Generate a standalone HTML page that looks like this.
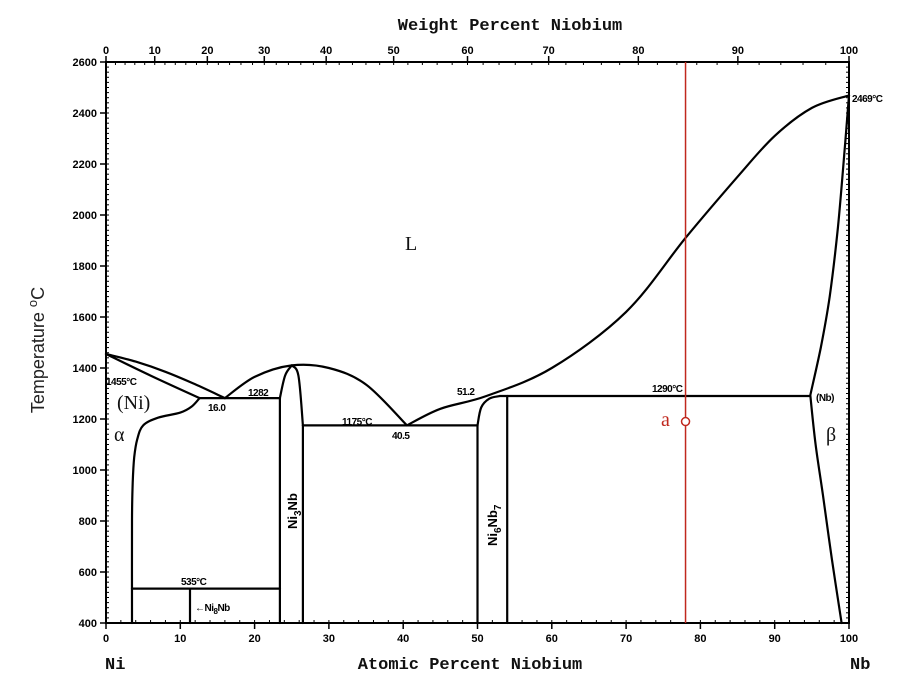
<!DOCTYPE html>
<html><head><meta charset="utf-8">
<style>
html,body{margin:0;padding:0;background:#fff;}
svg{display:block;font-family:"Liberation Sans",sans-serif;}
.t{font-size:11px;font-weight:bold;fill:#000;}
.lbl{font-family:"Liberation Mono",monospace;font-weight:bold;font-size:17px;fill:#111;}
.ph{font-family:"Liberation Serif",serif;font-size:20px;fill:#111;}
.sm{font-size:10px;font-weight:bold;fill:#000;letter-spacing:-0.5px}
.rot{font-size:13px;font-weight:bold;fill:#000;}
</style></head>
<body>
<svg id="chart" width="917" height="699" viewBox="0 0 917 699">
<g id="axes"></g>
<g id="curves" fill="none" stroke="#000" stroke-width="2.2"></g>
<g id="labels"></g>
</svg>
<script>
const xTicksAt = [0,10,20,30,40,50,60,70,80,90,100];
const xTicksWt = [0,10,20,30,40,50,60,70,80,90,100];
const yTicks = [400,600,800,1000,1200,1400,1600,1800,2000,2200,2400,2600];
const liqNi = [[0,1455],[4,1425],[8,1385],[12,1336],[16,1282]];
const solNi = [[0,1455],[6,1370],[12.6,1282]];
const solvNi = [[12.6,1282],[11.5,1248],[10,1225],[7,1205],[5,1175],[4.2,1120],[3.8,1050],[3.6,950],[3.5,800],[3.5,400]];
const liqMid = [[16,1282],[20,1365],[25,1410],[30,1400],[35,1335],[40.5,1175]];
const liqRight = [[40.5,1175],[45,1240],[51.2,1290],[60,1400],[70,1620],[78,1910],[85,2150],[90,2310],[95,2420],[100,2469]];
const ni3nbLv = [[23.4,400],[23.4,1282]];
const ni3nbLc = [[23.4,1282],[24.1,1370],[25,1410]];
const ni3nbRc = [[25,1410],[25.9,1370],[26.5,1175]];
const ni3nbRv = [[26.5,1175],[26.5,400]];
const ni6Lv = [[50,400],[50,1175]];
const ni6Lc = [[50,1175],[50.5,1245],[51.6,1280],[53,1290]];
const ni6R = [[54,400],[54,1290]];
const nbSol = [[94.8,1295],[96.2,1480],[97.4,1680],[98.5,1950],[99.4,2250],[100,2469]];
const nbSolv = [[94.8,1290],[95.5,1100],[96.5,900],[97.7,650],[99,400]];
const isotherms = [[12.6,23.4,1282],[26.5,50,1175],[53,94.8,1290],[3.5,23.4,535]];
const redX = 78;
const redT = 1190;

const X0=106,X1=849,Y400=623,PER=51/200;
const sx=v=>X0+(X1-X0)*v/100;
const sy=t=>Y400-(t-400)*PER;
const wt2at=w=>{if(w>=100)return 100;const a=w/92.906,b=(100-w)/58.69;return 100*a/(a+b);};
const NS="http://www.w3.org/2000/svg";
function mk(tag,attrs,parent,txt){const e=document.createElementNS(NS,tag);for(const k in attrs)e.setAttribute(k,attrs[k]);if(txt!=null)e.textContent=txt;parent.appendChild(e);return e;}
const axes=document.getElementById('axes'),curves=document.getElementById('curves'),labels=document.getElementById('labels');
const fr=mk('rect',{x:X0,y:sy(2600),width:X1-X0,height:sy(400)-sy(2600),fill:'none',stroke:'#000','stroke-width':2},axes);


for(let v=0;v<=100;v+=2){mk('line',{x1:sx(v),x2:sx(v),y1:Y400,y2:Y400-3,stroke:'#000','stroke-width':1},axes);}
for(let t=400;t<=2600;t+=20){mk('line',{x1:X0,x2:X0+3,y1:sy(t),y2:sy(t),stroke:'#000','stroke-width':1},axes);mk('line',{x1:X1,x2:X1-3,y1:sy(t),y2:sy(t),stroke:'#000','stroke-width':1},axes);}
xTicksAt.forEach(v=>{mk('line',{x1:sx(v),x2:sx(v),y1:Y400,y2:Y400+6,stroke:'#000','stroke-width':1.5},axes);
 const e=mk('text',{x:sx(v),y:642,'text-anchor':'middle',class:'t'},labels,String(v));
 
 });
xTicksWt.forEach(w=>{const x=sx(wt2at(w));mk('line',{x1:x,x2:x,y1:sy(2600),y2:sy(2600)-6,stroke:'#000','stroke-width':1.5},axes);
 const e=mk('text',{x:x,y:54,'text-anchor':'middle',class:'t'},labels,String(w));
 
 });
for(let w=2;w<100;w+=2){const x=sx(wt2at(w));mk('line',{x1:x,x2:x,y1:sy(2600),y2:sy(2600)+3,stroke:'#000','stroke-width':1},axes);}
yTicks.forEach(t=>{mk('line',{x1:X0-6,x2:X0,y1:sy(t),y2:sy(t),stroke:'#000','stroke-width':1.5},axes);
 const e=mk('text',{x:X0-9,y:sy(t)+4,'text-anchor':'end',class:'t'},labels,String(t));
 
 });
function path(pts,name,smooth){
 const P=pts.map(p=>[sx(p[0]),sy(p[1])]);
 let d='M'+P[0][0].toFixed(1)+','+P[0][1].toFixed(1);
 for(let i=0;i<P.length-1;i++){
  if(!smooth){d+=' L'+P[i+1][0].toFixed(1)+','+P[i+1][1].toFixed(1);continue;}
  const p0=P[i-1]||P[i],p1=P[i],p2=P[i+1],p3=P[i+2]||P[i+1];
  const c1=[p1[0]+(p2[0]-p0[0])/6,p1[1]+(p2[1]-p0[1])/6],c2=[p2[0]-(p3[0]-p1[0])/6,p2[1]-(p3[1]-p1[1])/6];
  d+=' C'+c1.map(v=>v.toFixed(1)).join(',')+' '+c2.map(v=>v.toFixed(1)).join(',')+' '+p2.map(v=>v.toFixed(1)).join(',');
 }
 const e=mk('path',{d:d,'stroke-linejoin':'round','stroke-linecap':'round'},curves);
 
 }
path(liqNi,'liquidus-ni',true);path(solNi,'solidus-ni',true);path(solvNi,'solvus-ni',true);path(liqMid,'liquidus-ni3nb',true);
path(liqRight,'liquidus-nb',true);
path(ni3nbLv,'ni3nb-left-boundary',false);path(ni3nbLc,'ni3nb-left-top',true);
path(ni3nbRc,'ni3nb-right-top',true);path(ni3nbRv,'ni3nb-right-boundary',false);
path(ni6Lv,'ni6nb7-left-boundary',false);path(ni6Lc,'ni6nb7-left-top',true);
path(ni6R,'ni6nb7-right-boundary',false);path(nbSol,'solidus-nb',true);path(nbSolv,'solvus-nb',true);
isotherms.forEach(s=>path([[s[0],s[2]],[s[1],s[2]]],'isotherm-line',false));
path([[11.3,400],[11.3,535]],'ni8nb-line',false);
const rl=mk('line',{x1:sx(redX),x2:sx(redX),y1:sy(2600),y2:sy(400),stroke:'#c0281e','stroke-width':1.5},labels);


const rc=mk('circle',{cx:sx(redX),cy:sy(redT),r:4,fill:'#fff',stroke:'#c0281e','stroke-width':1.5},labels);


</script>
<svg width="917" height="699" style="position:absolute;left:0;top:0">
<text class="lbl" x="510" y="30" text-anchor="middle">Weight Percent Niobium</text>
<text class="lbl" x="470" y="669" text-anchor="middle">Atomic Percent Niobium</text>
<text class="lbl" x="105" y="669">Ni</text>
<text class="lbl" x="850" y="669">Nb</text>
<text x="44" y="350" transform="rotate(-90 44 350)" text-anchor="middle" style="font-family:'Liberation Sans',sans-serif;font-size:18px;fill:#222">Temperature <tspan dy="-7" font-size="13">o</tspan><tspan dy="7">C</tspan></text>
<text class="ph" x="405" y="250" font-size="24">L</text>
<text class="ph" x="117" y="409">(Ni)</text>
<text class="ph" x="114" y="441">α</text>
<text class="ph" x="826" y="441">β</text>
<text class="ph" x="661" y="426" style="fill:#c0281e" font-size="24">a</text>
<text class="sm" x="106" y="385">1455°C</text>
<text class="sm" x="208" y="411">16.0</text>
<text class="sm" x="248" y="396">1282</text>
<text class="sm" x="342" y="425">1175°C</text>
<text class="sm" x="392" y="439">40.5</text>
<text class="sm" x="457" y="395">51.2</text>
<text class="sm" x="652" y="392">1290°C</text>
<text class="sm" x="816" y="401">(Nb)</text>
<text class="sm" x="852" y="102">2469°C</text>
<text class="sm" x="181" y="585">535°C</text>
<text class="sm" x="195" y="611">←Ni<tspan font-size="8" dy="3">8</tspan><tspan dy="-3">Nb</tspan></text>
<text class="rot" x="0" y="0" transform="translate(297,529) rotate(-90)">Ni<tspan font-size="10" dy="4">3</tspan><tspan dy="-4">Nb</tspan></text>
<text class="rot" x="0" y="0" transform="translate(497,546) rotate(-90)">Ni<tspan font-size="10" dy="4">6</tspan><tspan dy="-4">Nb</tspan><tspan font-size="10" dy="4">7</tspan></text>
</svg>
</body></html>
